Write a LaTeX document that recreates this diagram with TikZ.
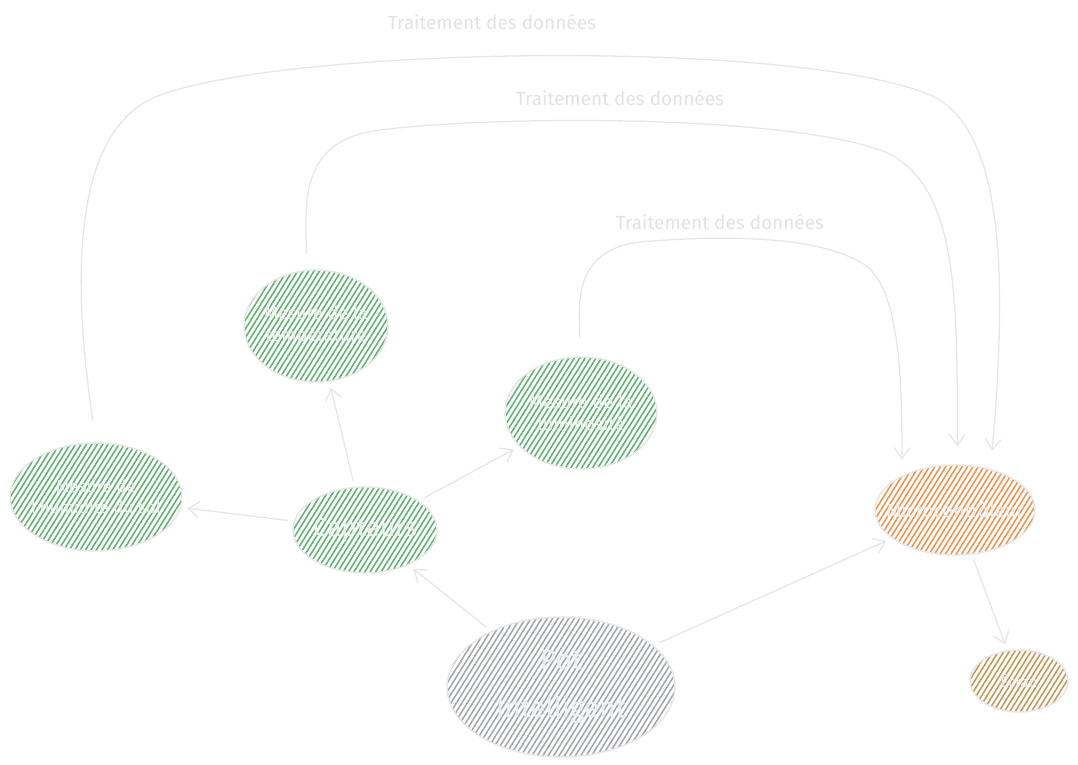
\documentclass[tikz,border=0pt]{standalone}
\usepackage{fontspec}
\setmainfont{Fira Sans}
\usetikzlibrary{arrows.meta, shapes.geometric, patterns.meta, positioning}

\definecolor{edge}{HTML}{E6E6E6}
\definecolor{ink}{HTML}{EDEDED}
\definecolor{leaf}{HTML}{62B373}
\definecolor{stone}{HTML}{A3A8AD}
\definecolor{flame}{HTML}{EE9550}
\definecolor{clay}{HTML}{C4985A}

% text that does not widen its ellipse
\newcommand{\slim}[1]{\makebox[0pt][c]{#1}}

\begin{document}
\begin{tikzpicture}[x=1pt, y=-1pt,
    blob/.style={ellipse, draw=edge, line width=1.4pt, text=ink, align=center,
      inner sep=0pt, font=\fontsize{18}{22}\selectfont,
      pattern={Lines[angle=58, distance=4.6pt, line width=1.6pt]}},
    sensor/.style={blob, pattern color=leaf},
    link/.style={draw=edge, line width=1.3pt, ->, shorten >=6pt, shorten <=6pt},
    tag/.style={text=ink!90!gray, font=\fontsize{19}{23}\selectfont},
    >={Straight Barb[length=11pt, width=16pt, line width=1.3pt]}]

  \useasboundingbox (0,0) rectangle (1078,765);

  % nodes
  \node[blob, pattern color=stone, minimum width=228pt, minimum height=140pt,
    font=\fontsize{28}{48}\selectfont] (pot) at (561,687)
    {\slim{Pot}\\\slim{Intelligent}};
  \node[sensor, minimum width=144pt, minimum height=86pt,
    font=\fontsize{26}{30}\selectfont] (cap) at (365,530) {\slim{Capteurs}};
  \node[sensor, minimum width=172pt, minimum height=108pt,
    font=\fontsize{17}{21}\selectfont] (hum) at (96,497)
    {\slim{Mesure de}\\\slim{l'humidité du sol}};
  \node[sensor, minimum width=144pt, minimum height=112pt] (tmp) at (316,326)
    {\slim{Mesure de la}\\\slim{température}};
  \node[sensor, minimum width=152pt, minimum height=112pt] (lum) at (581,413)
    {\slim{Mesure de la}\\\slim{luminosité}};
  \node[blob, pattern color=flame, minimum width=160pt, minimum height=90pt,
    font=\fontsize{19}{22}\selectfont] (mc) at (955,510) {\slim{Microcontrôleur}};
  \node[blob, pattern color=clay, minimum width=98pt, minimum height=62pt,
    font=\fontsize{15}{18}\selectfont] (scr) at (1019,681) {\slim{Écran}};

  % straight links
  \draw[link] (pot) -- (cap);
  \draw[link] (cap) -- (hum);
  \draw[link] (cap) -- (tmp);
  \draw[link] (cap) -- (lum);
  \draw[link] (pot) -- (mc);
  \draw[link] (mc) -- (scr);

  % data processing loops
  \draw[link, shorten <=22pt, shorten >=18pt] (hum.north)
    .. controls (75,300) and (65,130) .. (160,95)
    .. controls (300,45) and (800,40) .. (930,95)
    .. controls (1010,130) and (1005,300) .. (mc.49);
  \draw[link, shorten <=16pt, shorten >=18pt] ([xshift=-9pt]tmp.north)
    .. controls (305,200) and (300,140) .. (380,130)
    .. controls (500,115) and (780,115) .. (880,150)
    .. controls (960,180) and (957,300) .. (mc.87);
  \draw[link, shorten <=19pt, shorten >=16pt] (lum.north)
    .. controls (578,300) and (575,250) .. (640,242)
    .. controls (720,235) and (820,235) .. (865,265)
    .. controls (900,290) and (902,380) .. (mc.147);

  \node[tag] (t1) at (492,22) {Traitement des données};
  \node[tag] (t2) at (620,98) {Traitement des données};
  \node[tag] (t3) at (720,222) {Traitement des données};
\end{tikzpicture}
\end{document}
